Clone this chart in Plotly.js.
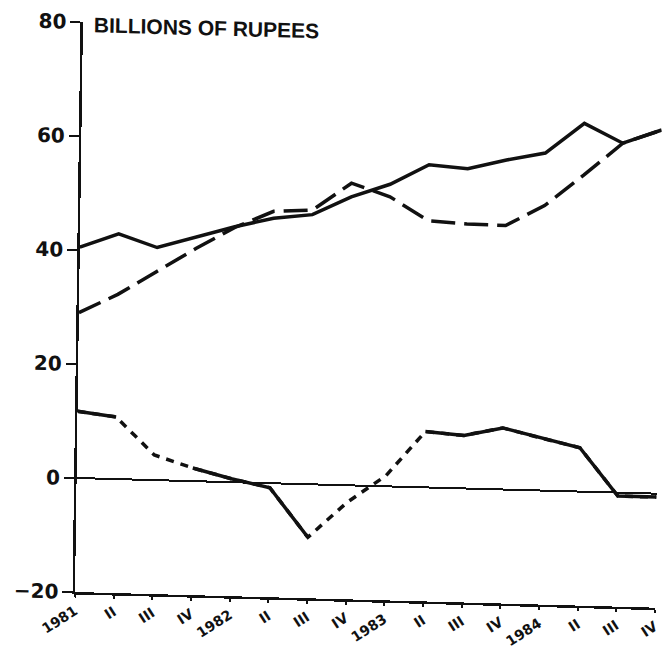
<!DOCTYPE html>
<html>
<head>
<meta charset="utf-8">
<script src="https://cdn.plot.ly/plotly-3.0.1.min.js"></script>
<style>
  html, body { margin: 0; padding: 0; background: #fff; overflow: hidden; }
  /* the scanned original sits slightly askew: bottom axis drops ~1.5deg, left axis leans ~0.8deg */
  #chart { width: 667px; height: 650px; transform-origin: 75px 592px; transform: matrix(1, 0.027, -0.014, 1, 0, 0); }
</style>
</head>
<body>
<div id="chart"></div>
<script>
// quarters along the bottom
const quarters = ['1981', 'II', 'III', 'IV', '1982', 'II', 'III', 'IV', '1983', 'II', 'III', 'IV', '1984', 'II', 'III', 'IV'];

// billions of rupees
const solidSeries  = [40.5, 43.0, 40.8, 42.8, 44.8, 46.5, 47.3, 50.6, 53.0, 56.6, 56.1, 57.8, 59.2, 64.6, 61.3, 63.8];
const dashedSeries = [29.0, 32.4, 36.6, 40.8, 44.7, 47.7, 48.1, 53.0, 50.8, 46.8, 46.4, 46.3, 50.0, 55.5, 61.3, 63.8];
const netSeries    = [11.7, 10.9, 4.4, 2.3, 0.6, -0.8, -9.3, -3.0, 1.9, 9.8, 9.3, 10.8, 9.2, 7.7, -0.6, -0.6];

// which segments of the lower line are drawn solid (1) rather than dotted (0)
const netSolidSegments = [1, 0, 0, 1, 0, 1, 0, 0, 0, 1, 0, 1, 1, 0, 1];

const xs = quarters.map((q, i) => i);

// keep a point only if a solid segment touches it
const netSolidY = netSeries.map((v, i) => {
  const before = i > 0 && netSolidSegments[i - 1] === 1;
  const after = i < netSolidSegments.length && netSolidSegments[i] === 1;
  return (before || after) ? v : null;
});

const ink = '#111';
const boldFont = (size, family) => ({ family: family || 'DejaVu Sans, sans-serif', size: size, color: ink, weight: 'bold' });

const data = [
  {
    x: xs, y: solidSeries, type: 'scatter', mode: 'lines', name: 'solid',
    line: { color: ink, width: 3.5 }, hoverinfo: 'skip'
  },
  {
    x: xs, y: dashedSeries, type: 'scatter', mode: 'lines', name: 'dashed',
    line: { color: ink, width: 3.5, dash: '24px,9px' }, hoverinfo: 'skip'
  },
  {
    x: xs, y: netSeries, type: 'scatter', mode: 'lines', name: 'net',
    line: { color: ink, width: 3.5, dash: '8px,7px' }, hoverinfo: 'skip'
  },
  {
    x: xs, y: netSolidY, type: 'scatter', mode: 'lines', name: 'net solid',
    connectgaps: false,
    line: { color: ink, width: 3.5 }, hoverinfo: 'skip'
  }
];

const layout = {
  width: 667,
  height: 650,
  margin: { l: 75, r: 12, t: 22, b: 58, pad: 0 },
  paper_bgcolor: '#fff',
  plot_bgcolor: '#fff',
  showlegend: false,
  xaxis: {
    range: [0, 15],
    tickvals: xs,
    ticktext: quarters,
    tickangle: -34,
    tickfont: boldFont(14),
    ticks: 'outside', ticklen: 3, tickwidth: 2, tickcolor: ink,
    showline: true, linecolor: ink, linewidth: 2.5,
    showgrid: false, zeroline: false
  },
  yaxis: {
    range: [-20, 80],
    tickvals: [-20, 0, 20, 40, 60, 80],
    ticktext: ['\u221220', '0', '20', '40', '60', '80'],
    tickfont: boldFont(20),
    ticks: 'outside', ticklen: 10, tickwidth: 2, tickcolor: ink,
    showline: true, linecolor: ink, linewidth: 2.5,
    showgrid: false,
    zeroline: true, zerolinecolor: ink, zerolinewidth: 2
  },
  annotations: [
    {
      text: 'BILLIONS OF RUPEES',
      xref: 'paper', yref: 'paper',
      x: 0.015, y: 1.02,
      xanchor: 'left', yanchor: 'top',
      showarrow: false,
      font: boldFont(21, 'Liberation Sans, Arial, sans-serif')
    }
  ]
};

Plotly.newPlot('chart', data, layout, { staticPlot: true, displayModeBar: false });
</script>
</body>
</html>
